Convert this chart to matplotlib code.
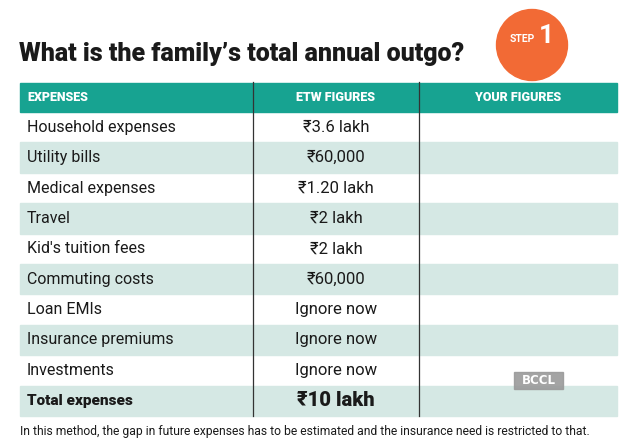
"""Recreate the ETW 'family's total annual outgo' table."""

import matplotlib

matplotlib.use("Agg")
import matplotlib.pyplot as plt
from matplotlib.patches import Circle, Rectangle
from matplotlib import font_manager

# table data
title = "What is the family\u2019s total annual outgo?"
headers = ["EXPENSES", "ETW FIGURES", "YOUR FIGURES"]
expenses = [
    "Household expenses",
    "Utility bills",
    "Medical expenses",
    "Travel",
    "Kid's tuition fees",
    "Commuting costs",
    "Loan EMIs",
    "Insurance premiums",
    "Investments",
]
etw_figures = [
    "\u20b93.6 lakh",
    "\u20b960,000",
    "\u20b91.20 lakh",
    "\u20b92 lakh",
    "\u20b92 lakh",
    "\u20b960,000",
    "Ignore now",
    "Ignore now",
    "Ignore now",
]
total_label = "Total expenses"
total_value = "\u20b910 lakh"
footnote = ("In this method, the gap in future expenses has to be estimated "
            "and the insurance need is restricted to that.")

TEAL = "#17a391"
SHADE = "#d5e8e4"
ORANGE = "#f26a35"
INK = "#1a1a1a"

installed = {f.name for f in font_manager.fontManager.ttflist}
narrow = "Liberation Sans Narrow" if "Liberation Sans Narrow" in installed else "Roboto"
body = "Roboto"

fig = plt.figure(figsize=(6.3, 4.42), dpi=100)
ax = fig.add_axes([0, 0, 1, 1])
ax.set_xlim(0, 630)
ax.set_ylim(442, 0)
ax.axis("off")

left, right = 20, 617
col1, col2 = 253, 419
head_top, head_bot = 83, 112
row_h = 30.4

# title and step badge
ax.text(19, 54, title, fontsize=18, fontweight="heavy", family=narrow,
        color=INK, va="center", ha="left")
ax.add_patch(Circle((532, 45), 35.5, color=ORANGE, zorder=3))
ax.text(522, 39, "STEP", fontsize=7.5, fontweight="bold", family=narrow,
        color="white", va="center", ha="center", zorder=4)
ax.text(546, 36, "1", fontsize=19, fontweight="bold", family=narrow,
        color="white", va="center", ha="center", zorder=4)

# header
ax.add_patch(Rectangle((left, head_top), right - left, head_bot - head_top,
                       color=TEAL, zorder=1))
hy = (head_top + head_bot) / 2
ax.text(27, hy, headers[0], fontsize=9, fontweight="heavy", family=narrow,
        color="white", va="center")
ax.text((col1 + col2) / 2, hy, headers[1], fontsize=9, fontweight="heavy",
        family=narrow, color="white", va="center", ha="center")
ax.text((col2 + right) / 2, hy, headers[2], fontsize=9, fontweight="heavy",
        family=narrow, color="white", va="center", ha="center")

# rows
labels = expenses + [total_label]
values = etw_figures + [total_value]
for i, (lab, val) in enumerate(zip(labels, values)):
    top = head_bot + i * row_h
    if i % 2 == 1:
        ax.add_patch(Rectangle((left, top), right - left, row_h,
                               color=SHADE, zorder=1))
    cy = top + row_h / 2
    is_total = i == len(labels) - 1
    if is_total:
        ax.text(27, cy, lab, fontsize=11, fontweight="heavy", family=narrow,
                color=INK, va="center")
        ax.text((col1 + col2) / 2, cy, val, fontsize=14.5, fontweight="heavy",
                family=[narrow, "DejaVu Sans"], color=INK, va="center",
                ha="center")
    else:
        ax.text(27, cy, lab, fontsize=11.5, family=body, color=INK,
                va="center")
        ax.text((col1 + col2) / 2, cy, val, fontsize=12,
                family=[body, "DejaVu Sans"], color=INK, va="center",
                ha="center")

table_bot = head_bot + len(labels) * row_h
for x in (col1, col2):
    ax.plot([x, x], [head_top - 1, table_bot], color="#333333", lw=0.9,
            zorder=2)

# watermark
ax.add_patch(Rectangle((514, 372), 49, 17, color="#9a9a9a", alpha=0.9,
                       zorder=3))
ax.text(538.5, 380.5, "BCCL", fontsize=8.5, fontweight="bold",
        family="DejaVu Sans", color="white", va="center", ha="center",
        zorder=4)

# footnote
ax.text(20, 431, footnote, fontsize=8.7, family=body, color=INK,
        va="center", ha="left")

fig.savefig("out.png", dpi=100)
